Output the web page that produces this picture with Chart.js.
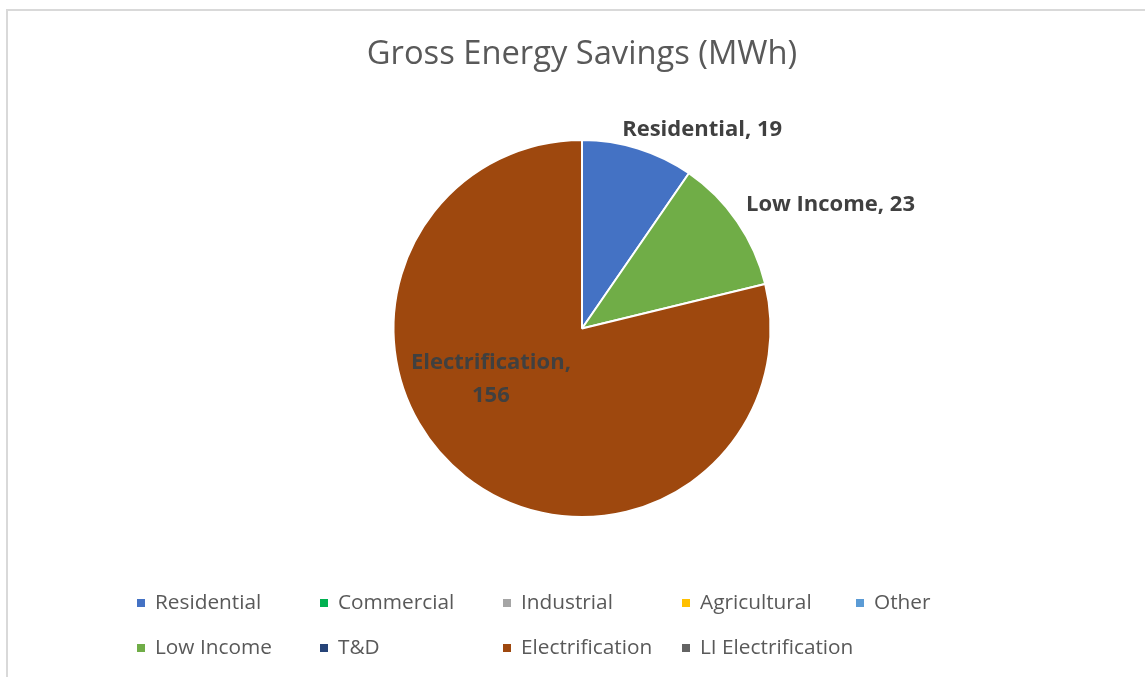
<!DOCTYPE html>
<html>
<head>
<meta charset="utf-8">
<script src="https://cdn.jsdelivr.net/npm/chart.js@4.4.0/dist/chart.umd.min.js"></script>
<style>
  html, body { margin: 0; padding: 0; background: #fff; }
  #wrap { width: 1145px; height: 677px; position: relative; }
</style>
</head>
<body>
<div id="wrap"><canvas id="pie" width="1145" height="677"></canvas></div>
<script>
// Data
const chartTitle = 'Gross Energy Savings (MWh)';
const categories = ['Residential', 'Commercial', 'Industrial', 'Agricultural', 'Other',
                    'Low Income', 'T&D', 'Electrification', 'LI Electrification'];
const savings = [19, 0, 0, 0, 0, 23, 0, 156, 0];
const sliceColors = ['#4472C4', '#00B050', '#A5A5A5', '#FFC000', '#5B9BD5',
                     '#70AD47', '#264478', '#9E480E', '#636363'];

const FONT = '"Open Sans", "DejaVu Sans", sans-serif';

// label tweaks (Excel "best fit" placement), pixels
const labelNudge = { 0: [33, 16], 5: [3, 4], 7: [-27, -31] };

// Draws border, title, data labels and the two row legend
const decorPlugin = {
  id: 'decor',
  beforeDraw(chart) {
    const ctx = chart.ctx;
    ctx.save();
    ctx.strokeStyle = '#d9d9d9';
    ctx.lineWidth = 2;
    ctx.strokeRect(7, 10, 1150, 700);
    ctx.restore();
  },
  afterDraw(chart) {
    const ctx = chart.ctx;
    ctx.save();

    // title
    ctx.fillStyle = '#595959';
    ctx.font = '32.7px ' + FONT;
    ctx.textAlign = 'center';
    ctx.textBaseline = 'middle';
    ctx.fillText(chartTitle, 582, 55);

    // data labels
    const meta = chart.getDatasetMeta(0);
    ctx.font = 'bold 22px ' + FONT;
    ctx.fillStyle = '#404040';
    meta.data.forEach((arc, i) => {
      if (!savings[i]) return;
      const p = arc.getProps(['x', 'y', 'startAngle', 'endAngle', 'outerRadius'], true);
      const mid = (p.startAngle + p.endAngle) / 2;
      const span = p.endAngle - p.startAngle;
      const txt = categories[i] + ', ' + savings[i];
      const nudge = labelNudge[i] || [0, 0];
      if (span < Math.PI / 2) {
        // outside label
        const w = ctx.measureText(txt).width;
        const r = p.outerRadius + 25;
        const cx = p.x + Math.cos(mid) * r + Math.cos(mid) * w / 2 + nudge[0];
        const cy = p.y + Math.sin(mid) * r + Math.sin(mid) * 11 + nudge[1];
        ctx.textAlign = 'center';
        ctx.fillText(txt, cx, cy);
      } else {
        const r = p.outerRadius * 0.55;
        const cx = p.x + Math.cos(mid) * r + nudge[0];
        const cy = p.y + Math.sin(mid) * r + nudge[1];
        ctx.textAlign = 'center';
        ctx.fillText(categories[i] + ',', cx, cy - 16);
        ctx.fillText(String(savings[i]), cx, cy + 17);
      }
    });

    // legend, grid of 5 columns
    const colX = [137, 320, 503, 682, 856];
    const rowY = [603, 648];
    ctx.font = '20.8px ' + FONT;
    ctx.textAlign = 'left';
    ctx.textBaseline = 'middle';
    categories.forEach((name, i) => {
      const x = colX[i % 5];
      const y = rowY[Math.floor(i / 5)];
      ctx.fillStyle = sliceColors[i];
      ctx.fillRect(x, y - 4, 8, 8);
      ctx.fillStyle = '#595959';
      ctx.fillText(name, x + 18, y);
    });
    ctx.restore();
  }
};

new Chart(document.getElementById('pie'), {
  type: 'pie',
  data: {
    labels: categories,
    datasets: [{
      data: savings,
      backgroundColor: sliceColors,
      borderColor: '#ffffff',
      borderWidth: 2,
      hoverOffset: 0,
      offset: 0
    }]
  },
  options: {
    responsive: false,
    animation: false,
    layout: { padding: { left: 392.5, right: 373.5, top: 139, bottom: 159 } },
    plugins: {
      legend: { display: false },
      title: { display: false },
      tooltip: { enabled: false }
    }
  },
  plugins: [decorPlugin]
});
</script>
</body>
</html>
